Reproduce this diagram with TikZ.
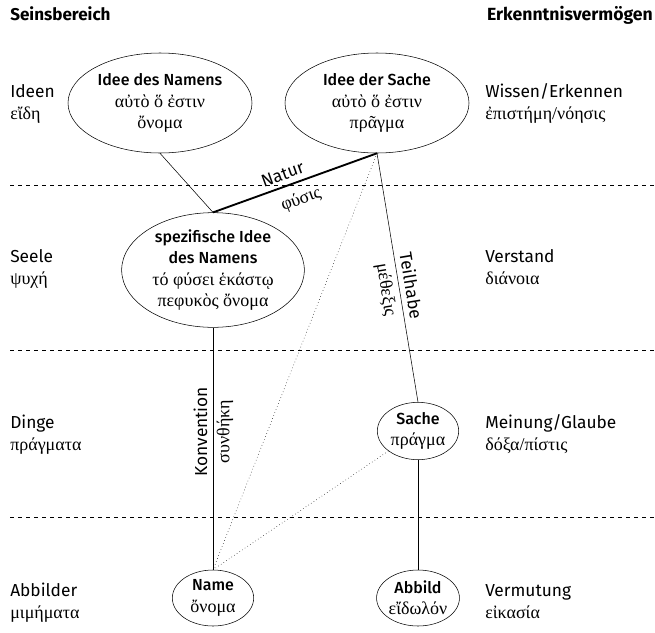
\documentclass[tikz,border=0pt]{standalone}
\usepackage{fontspec}
\setmainfont{Fira Sans}
\newfontfamily\med{Fira Sans Medium}
\newfontfamily\gr{Liberation Serif}
\usetikzlibrary{shapes.geometric}
\newcommand\grk[1]{{\gr\fontsize{13.5}{16}\selectfont #1}}
\begin{document}
\begin{tikzpicture}[x=0.75pt,y=-0.75pt,
  every node/.style={font=\fontsize{13}{16}\selectfont},
  idea/.style={draw,ellipse,inner sep=0pt,align=center,font=\fontsize{12}{16}\selectfont\med},
  side/.style={anchor=base west,inner sep=0pt},
  grside/.style={anchor=base west,inner sep=0pt,font=\fontsize{13.5}{16}\selectfont\gr},
  lbl/.style={sloped,inner sep=4pt},
  grlbl/.style={sloped,inner sep=4pt,font=\fontsize{13.5}{16}\selectfont\gr}]
\useasboundingbox (0,0) rectangle (655,632);

\node[side,font=\fontsize{12.8}{16}\selectfont\bfseries] (seins) at (10,20) {Seinsbereich};
\node[anchor=base east,inner sep=0pt,font=\fontsize{13.2}{16}\selectfont\bfseries] (erk) at (653,20) {Erkenntnisvermögen};

\draw[dashed] (10,185) -- (655,185);
\draw[dashed] (10,350) -- (655,350);
\draw[dashed] (10,517) -- (655,517);

\node[side] (ideen) at (10,97) {Ideen};
\node[grside] (eide) at (10,119) {εἴδη};
\node[side] (seele) at (10,262) {Seele};
\node[grside] (psyche) at (10,284) {ψυχή};
\node[side] (dinge) at (10,428) {Dinge};
\node[grside] (pragmata) at (10,450) {πράγματα};
\node[side] (abbilder) at (10,596) {Abbilder};
\node[grside] (mimemata) at (10,618) {μιμήματα};

\node[side] (wissen) at (485,97) {Wissen/Erkennen};
\node[grside] (episteme) at (485,119) {ἐπιστήμη/νόησις};
\node[side] (verstand) at (485,262) {Verstand};
\node[grside] (dianoia) at (485,284) {διάνοια};
\node[side] (meinung) at (485,428) {Meinung/Glaube};
\node[grside] (doxa) at (485,450) {δόξα/πίστις};
\node[side] (vermutung) at (485,596) {Vermutung};
\node[grside] (eikasia) at (485,618) {εἰκασία};

\node[idea,minimum width=138pt,minimum height=75pt] (idn) at (160,103)
  {Idee des Namens\\\grk{αὐτὸ ὅ ἐστιν}\\\grk{ὄνομα}};
\node[idea,minimum width=138pt,minimum height=75pt] (ids) at (377,103)
  {Idee der Sache\\\grk{αὐτὸ ὅ ἐστιν}\\\grk{πρᾶγμα}};
\node[idea,minimum width=137pt,minimum height=86pt] (spez) at (213,270)
  {spezifische Idee\\des Namens\\\grk{τό φύσει ἑκάστῳ}\\\grk{πεφυκὸς ὄνομα}};
\node[idea,minimum width=61pt,minimum height=43pt] (sache) at (418,431)
  {Sache\\\grk{πράγμα}};
\node[idea,minimum width=61pt,minimum height=42pt] (name) at (213,598)
  {Name\\\grk{ὄνομα}};
\node[idea,minimum width=61pt,minimum height=42pt] (abbild) at (418,598)
  {Abbild\\\grk{εἴδωλόν}};

\draw (idn.south) -- (spez.north);
\draw[line width=1.4pt] (spez.north) -- node[lbl,above,pos=0.45] {Natur} node[grlbl,below,pos=0.5,inner sep=6.5pt] {φύσις} (ids.south);
\draw (ids.south) -- node[lbl,above,pos=0.54] {Teilhabe} node[grlbl,below,pos=0.54] {μέθεξις} (sache.north);
\draw[dotted] (ids.south) -- (name.north);
\draw[dotted] (name.north) -- (sache);
\draw (name.north) -- node[lbl,above,pos=0.57] {Konvention} node[grlbl,below,pos=0.57,inner sep=2.5pt] {συνθήκη} (spez.south);
\draw (sache.south) -- (abbild.north);

\end{tikzpicture}
\end{document}
